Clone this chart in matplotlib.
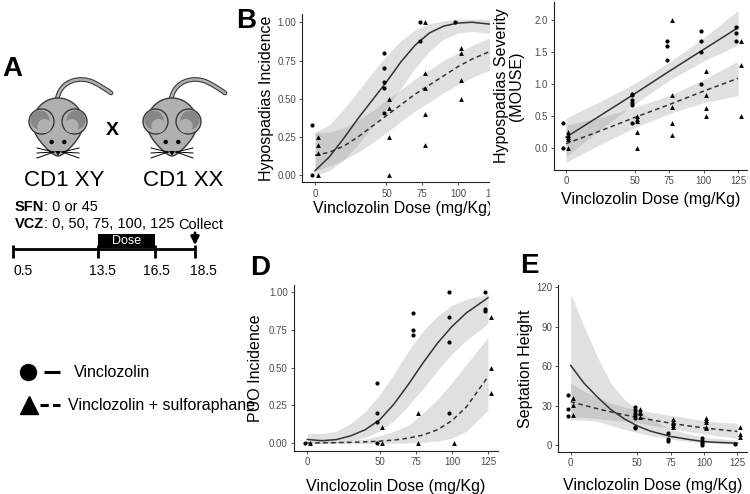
import numpy as np
import matplotlib
matplotlib.use("Agg")
import matplotlib.pyplot as plt
from matplotlib.patches import Rectangle, Circle, Ellipse, Polygon, PathPatch
from matplotlib.path import Path

plt.rcParams['font.family'] = ['Liberation Sans', 'DejaVu Sans']

# -----------------------------
# Data
# -----------------------------
dose_ticks = [0, 50, 75, 100, 125]

# B : hypospadias incidence
b_vcz = {0: [0.33, 0.0], 50: [0.80, 0.70, 0.61, 0.57, 0.41], 75: [1.0, 0.875], 100: [1.0]}
b_sfn = {0: [0.25, 0.20, 0.143, 0.0], 50: [0.5, 0.44, 0.25, 0.0],
         75: [1.0, 0.67, 0.57, 0.40, 0.20], 100: [0.83, 0.80, 0.625, 0.5]}
b_grid = [0, 10, 20, 30, 40, 50, 60, 70, 80, 90, 100, 110, 120, 125]
b_fit_vcz = [0.03, 0.12, 0.24, 0.37, 0.49, 0.61, 0.74, 0.85, 0.93, 0.975, 0.995, 1.0, 0.99, 0.985]
b_lo_vcz = [0.0, 0.03, 0.10, 0.20, 0.32, 0.44, 0.57, 0.70, 0.81, 0.89, 0.93, 0.94, 0.93, 0.92]
b_hi_vcz = [0.28, 0.33, 0.43, 0.55, 0.67, 0.78, 0.88, 0.95, 0.99, 1.01, 1.02, 1.02, 1.02, 1.02]
b_fit_sfn = [0.13, 0.15, 0.19, 0.25, 0.32, 0.39, 0.46, 0.53, 0.59, 0.65, 0.71, 0.76, 0.80, 0.82]
b_lo_sfn = [0.03, 0.06, 0.10, 0.15, 0.21, 0.28, 0.35, 0.42, 0.48, 0.54, 0.59, 0.64, 0.68, 0.70]
b_hi_sfn = [0.28, 0.28, 0.31, 0.36, 0.42, 0.49, 0.56, 0.63, 0.69, 0.75, 0.80, 0.85, 0.89, 0.91]

# C : hypospadias severity
c_vcz = {0: [0.4, 0.0], 50: [0.85, 0.83, 0.75, 0.70, 0.67, 0.40], 75: [1.67, 1.60, 1.375],
         100: [1.83, 1.67, 1.5, 1.0], 125: [1.89, 1.8, 1.67]}
c_sfn = {0: [0.25, 0.21, 0.17, 0.14, 0.0], 50: [0.5, 0.46, 0.43, 0.25, 0.0],
         75: [2.0, 0.83, 0.65, 0.40, 0.20], 100: [1.2, 0.83, 0.625, 0.5], 125: [1.67, 1.29, 0.5]}
c_grid = [0, 25, 50, 75, 100, 125]
c_fit_vcz = [0.17, 0.51, 0.85, 1.20, 1.54, 1.88]
c_lo_vcz = [-0.13, 0.29, 0.69, 1.06, 1.36, 1.61]
c_hi_vcz = [0.47, 0.73, 1.01, 1.34, 1.72, 2.15]
c_fit_sfn = [0.07, 0.27, 0.48, 0.68, 0.89, 1.09]
c_lo_sfn = [-0.22, 0.06, 0.32, 0.54, 0.71, 0.82]
c_hi_sfn = [0.36, 0.48, 0.64, 0.82, 1.07, 1.36]

# D : PUO incidence
d_vcz = {0: [0.0], 50: [0.40, 0.20, 0.143, 0.0], 75: [0.857, 0.75, 0.714],
         100: [1.0, 0.833, 0.667, 0.2], 125: [1.0, 0.889, 0.875]}
d_sfn = {0: [0.0], 50: [0.111, 0.0], 75: [0.2, 0.0], 100: [0.0], 125: [0.833, 0.5, 0.333]}
d_grid = [0, 10, 20, 30, 40, 50, 60, 70, 80, 90, 100, 110, 125]
d_fit_vcz = [0.026, 0.018, 0.025, 0.05, 0.09, 0.155, 0.26, 0.39, 0.53, 0.66, 0.77, 0.86, 0.96]
d_lo_vcz = [0.0, 0.0, 0.003, 0.015, 0.04, 0.08, 0.15, 0.25, 0.36, 0.48, 0.59, 0.68, 0.79]
d_hi_vcz = [0.065, 0.065, 0.08, 0.13, 0.21, 0.32, 0.46, 0.61, 0.74, 0.84, 0.91, 0.95, 0.985]
d_fit_sfn = [0.003, 0.004, 0.005, 0.007, 0.01, 0.015, 0.022, 0.035, 0.055, 0.09, 0.15, 0.24, 0.44]
d_lo_sfn = [0, 0, 0, 0, 0, 0, 0.001, 0.003, 0.007, 0.015, 0.035, 0.08, 0.22]
d_hi_sfn = [0.015, 0.015, 0.016, 0.02, 0.03, 0.05, 0.08, 0.12, 0.20, 0.29, 0.40, 0.52, 0.70]

# E : septation height
e_vcz = {0: [38.3, 27, 21.8], 50: [28.7, 26.6, 24.6, 22.6, 20.3, 14, 13],
         75: [9.4, 4.3, 3.0], 100: [5.1, 3.3, 1.3, 0.0], 125: [0.8]}
e_sfn = {0: [36, 30.7, 23], 50: [27, 25.4, 24, 21.6], 75: [19.5, 17.7, 16.5, 15.2, 13.4],
         100: [20.8, 19, 17.5, 13.9, 12.7], 125: [13.4, 8.4, 6.3]}
e_grid = [0, 10, 20, 30, 40, 50, 60, 75, 90, 100, 110, 125]
e_fit_vcz = [60.5, 47, 36.5, 27, 20, 14.5, 10.5, 6.5, 4, 2.6, 2.0, 1.4]
e_lo_vcz = [19, 19, 18, 15, 12, 9.5, 7, 4.5, 2.5, 1.8, 1.2, 0.5]
e_hi_vcz = [115, 90, 67, 47, 35, 27, 20, 12, 8, 6, 5, 3.5]
e_fit_sfn = [33, 30.2, 27.6, 25.2, 23, 21, 19.2, 16.6, 14.3, 13, 11.9, 10.3]
e_lo_sfn = [21, 21, 20, 19, 18, 17, 15, 12.5, 10, 8.5, 7, 5]
e_hi_sfn = [47, 41, 36, 32, 29, 27, 25, 22.5, 20, 18.5, 17.5, 16.5]

W, H = 750, 494
fig = plt.figure(figsize=(W / 100, H / 100), dpi=100)


def px_axes(l, t, r, b, z=0):
    ax = fig.add_axes([l / W, 1 - b / H, (r - l) / W, (b - t) / H])
    ax.set_zorder(z)
    return ax


def draw_panel(ax, grid, vcz_fit, sfn_fit, vcz_pts, sfn_pts):
    for fit, ls in [(vcz_fit, '-'), (sfn_fit, (0, (3, 2.2)))]:
        ax.fill_between(grid, fit[1], fit[2], color='#999999', alpha=0.3, lw=0)
        ax.plot(grid, fit[0], color='#333333', lw=1.1, ls=ls)
    for pts, mk, sz, shift in [(vcz_pts, 'o', 9, -1.8), (sfn_pts, '^', 12, 1.8)]:
        x = [d + shift for d, vals in pts.items() for v in vals]
        y = [v for d, vals in pts.items() for v in vals]
        ax.scatter(x, y, marker=mk, s=sz, color='black', lw=0, zorder=3)


def style(ax, xlim, ylim, yticks, yfmt, ylabel, ylab_x, xlab_y):
    ax.set_xlim(xlim)
    ax.set_ylim(ylim)
    for s in ['top', 'right']:
        ax.spines[s].set_visible(False)
    for s in ['left', 'bottom']:
        ax.spines[s].set_linewidth(0.8)
        ax.spines[s].set_color('#222222')
    ax.set_xticks(dose_ticks)
    ax.set_xticklabels([str(d) for d in dose_ticks])
    ax.set_yticks(yticks)
    ax.set_yticklabels([yfmt.format(v) for v in yticks])
    ax.tick_params(length=2.5, width=0.6, color='#333333', labelsize=7,
                   labelcolor='#4d4d4d', pad=2)
    ax.set_xlabel('Vinclozolin Dose (mg/Kg)', fontsize=11.5)
    ax.set_ylabel(ylabel, fontsize=11.5, linespacing=1.0)
    ax.yaxis.set_label_coords(ylab_x, 0.5)
    ax.xaxis.set_label_coords(0.5, xlab_y)
    ax.patch.set_alpha(0)


# -----------------------------
# Panel B
# -----------------------------
axB = px_axes(302.3, 14, 504, 182.3, z=0)
draw_panel(axB, b_grid, (b_fit_vcz, b_lo_vcz, b_hi_vcz), (b_fit_sfn, b_lo_sfn, b_hi_sfn), b_vcz, b_sfn)
style(axB, (-8.9, 132.2), (-0.046, 1.054), [0, 0.25, 0.5, 0.75, 1.0], '{:.2f}',
      'Hypospadias Incidence', -0.142, -0.111)

# white cover: panel C sits on top of the right part of B
fig.add_artist(Rectangle((490 / W, 1 - 222 / H), 260 / W, 222 / H, transform=fig.transFigure,
                         facecolor='white', edgecolor='none', zorder=1))

# -----------------------------
# Panel C
# -----------------------------
axC = px_axes(554, 2, 746.7, 170, z=2)
draw_panel(axC, c_grid, (c_fit_vcz, c_lo_vcz, c_hi_vcz), (c_fit_sfn, c_lo_sfn, c_hi_sfn), c_vcz, c_sfn)
style(axC, (-8.7, 131.3), (-0.34, 2.28), [0, 0.5, 1.0, 1.5, 2.0], '{:.1f}',
      'Hypospadias Severity\n(MOUSE)', -0.156, -0.131)

# -----------------------------
# Panel D
# -----------------------------
axD = px_axes(294, 285, 498, 451, z=2)
draw_panel(axD, d_grid, (d_fit_vcz, d_lo_vcz, d_hi_vcz), (d_fit_sfn, d_lo_sfn, d_hi_sfn), d_vcz, d_sfn)
style(axD, (-9.2, 131.9), (-0.05, 1.044), [0, 0.25, 0.5, 0.75, 1.0], '{:.2f}',
      'PUO Incidence', -0.152, -0.169)

# -----------------------------
# Panel E
# -----------------------------
axE = px_axes(558.3, 285, 746.7, 451.7, z=2)
draw_panel(axE, e_grid, (e_fit_vcz, e_lo_vcz, e_hi_vcz), (e_fit_sfn, e_lo_sfn, e_hi_sfn), e_vcz, e_sfn)
style(axE, (-9.3, 132), (-5.1, 121.7), [0, 30, 60, 90, 120], '{:d}',
      'Septation Height', -0.134, -0.158)

# -----------------------------
# Panel A : schematic, drawn in pixel space
# -----------------------------
ax0 = fig.add_axes([0, 0, 1, 1])
ax0.set_zorder(5)
ax0.set_xlim(0, W)
ax0.set_ylim(H, 0)
ax0.axis('off')

body_c = '#b0b0b0'
edge_c = '#3a3a3a'


def draw_mouse(cx, cy=127):
    # tail
    tail = Path([(cx - 1, 100), (cx + 2, 80), (cx + 22, 76), (cx + 35, 82),
                 (cx + 43, 86), (cx + 49, 90), (cx + 53, 93)],
                [Path.MOVETO, Path.CURVE4, Path.CURVE4, Path.CURVE4,
                 Path.CURVE4, Path.CURVE4, Path.CURVE4])
    ax0.add_patch(PathPatch(tail, fc='none', ec=edge_c, lw=3.4, capstyle='round'))
    ax0.add_patch(PathPatch(tail, fc='none', ec=body_c, lw=1.8, capstyle='round'))
    # head / body
    t = np.linspace(0, 2 * np.pi, 200)
    w = 1 - 0.55 * ((1 + np.cos(t)) / 2) ** 3
    hx = cx + 26.5 * np.sin(t) * w
    hy = cy + 29 * np.cos(t)
    ax0.add_patch(Polygon(np.column_stack([hx, hy]), closed=True, fc=body_c, ec=edge_c, lw=1.0))
    # ears: light rim, dark inner crescent on the upper outer side
    for sgn in (-1, 1):
        ex = cx + sgn * 16.5
        ax0.add_patch(Circle((ex, 121.5), 12.5, fc=body_c, ec=edge_c, lw=1.0))
        ax0.add_patch(Ellipse((ex + sgn * 1.5, 120), 19, 19, fc='#878787', ec='none'))
        ax0.add_patch(Ellipse((ex - sgn * 3.0, 126), 14, 14, fc=body_c, ec='none'))
    # eyes, nose, whiskers
    for sgn in (-1, 1):
        ax0.add_patch(Circle((cx + sgn * 6.3, 142), 2.2, fc='black', ec='none'))
        for dy in (-4, 1, 6):
            ax0.plot([cx + sgn * 4, cx + sgn * 21], [152, 152 + dy], color='black', lw=0.7)
    ax0.add_patch(Polygon([(cx - 3, 151), (cx + 3, 151), (cx, 155.5)], closed=True, fc='black'))


draw_mouse(58)
draw_mouse(172)
ax0.text(112, 130, 'X', fontsize=14, fontweight='bold', ha='center', va='center')
ax0.text(64, 180, 'CD1 XY', fontsize=16, ha='center', va='center')
ax0.text(183.5, 180, 'CD1 XX', fontsize=16, ha='center', va='center')

t1 = ax0.text(15, 207, 'SFN', fontsize=10.5, fontweight='bold', ha='left', va='center')
ax0.annotate(': 0 or 45', xy=(1, 0), xycoords=t1, fontsize=10.5, ha='left', va='bottom')
t2 = ax0.text(15, 223.5, 'VCZ', fontsize=10.5, fontweight='bold', ha='left', va='center')
ax0.annotate(': 0, 50, 75, 100, 125', xy=(1, 0), xycoords=t2, fontsize=10.5, ha='left', va='bottom')

# timeline
day_labels = ['0.5', '13.5', '16.5', '18.5']
day_x = [13, 98, 155, 195]
label_x = [23, 102, 156, 203]
ax0.plot([day_x[0], day_x[-1]], [249, 249], color='black', lw=2, solid_capstyle='butt')
for x in day_x:
    ax0.plot([x, x], [245, 258], color='black', lw=2, solid_capstyle='butt')
for lab, x in zip(day_labels, label_x):
    ax0.text(x, 271, lab, fontsize=10, ha='center', va='center')
ax0.add_patch(Rectangle((98, 234), 57, 14, fc='black', ec='none'))
ax0.text(126.5, 240.5, 'Dose', fontsize=9, color='white', ha='center', va='center')
ax0.text(201, 225, 'Collect', fontsize=10.5, ha='center', va='center')
ax0.annotate('', xy=(195, 248), xytext=(195, 230),
             arrowprops=dict(arrowstyle='-|>', lw=2, color='black', mutation_scale=12))

# legend
ax0.plot(28, 372, 'o', ms=11.5, color='black')
ax0.plot([44, 60], [372, 372], color='black', lw=2.2, solid_capstyle='butt')
ax0.text(74, 372, 'Vinclozolin', fontsize=11.5, ha='left', va='center')
ax0.plot(29, 405, '^', ms=13, color='black')
ax0.plot([40, 60], [405, 405], color='black', lw=2.2, ls=(0, (2.7, 1.4)), dash_capstyle='butt')
ax0.text(68, 405, 'Vinclozolin + sulforaphane', fontsize=11.5, ha='left', va='center')

# panel letters
for lab, x, y in [('A', 2, 76), ('B', 236, 28), ('D', 250, 275), ('E', 520, 273)]:
    ax0.text(x, y, lab, fontsize=20, fontweight='bold', ha='left', va='baseline')

fig.savefig('out.png', dpi=100)
